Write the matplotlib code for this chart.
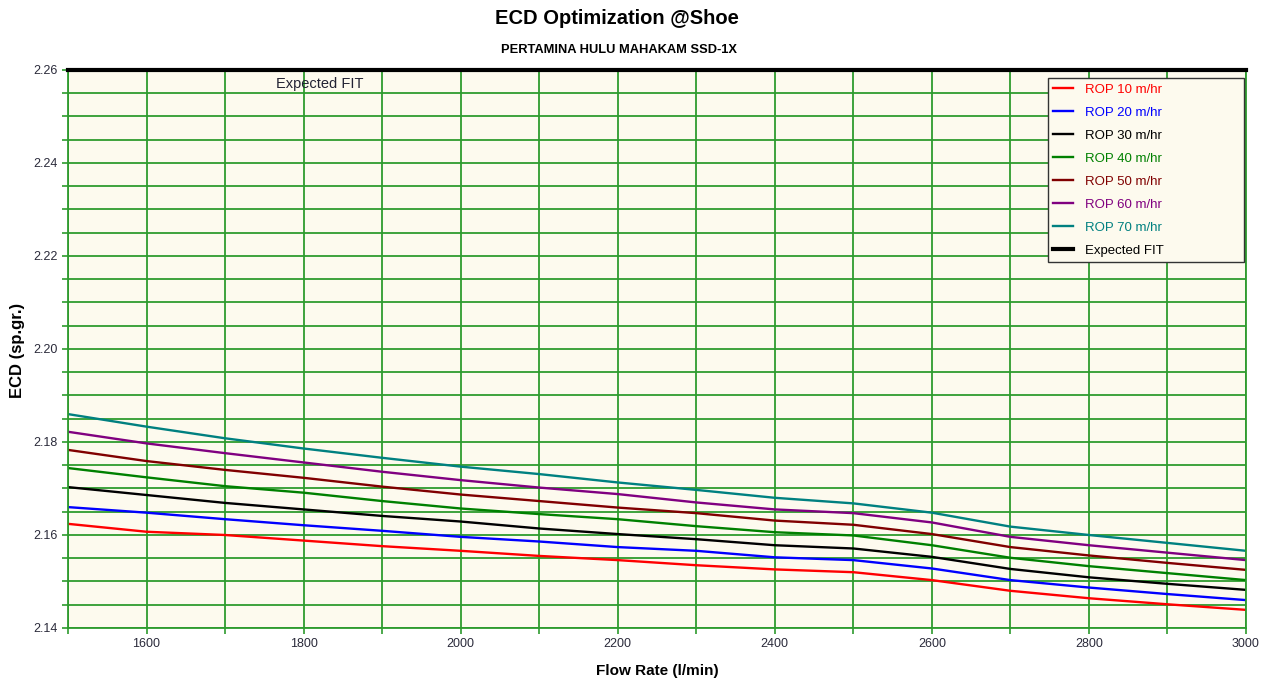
import matplotlib
matplotlib.use("Agg")
import matplotlib.pyplot as plt
from matplotlib.ticker import MultipleLocator

flow = [1500, 1600, 1700, 1800, 1900, 2000, 2100, 2200, 2300, 2400, 2500, 2600, 2700, 2800, 2900, 3000]

rop10 = [2.1624, 2.1607, 2.1600, 2.1588, 2.1576, 2.1566, 2.1555, 2.1546, 2.1535, 2.1526, 2.1520, 2.1503, 2.1480, 2.1464, 2.1451, 2.1439]
rop20 = [2.1660, 2.1648, 2.1634, 2.1621, 2.1609, 2.1596, 2.1586, 2.1574, 2.1566, 2.1552, 2.1546, 2.1528, 2.1503, 2.1487, 2.1473, 2.1460]
rop30 = [2.1703, 2.1686, 2.1669, 2.1655, 2.1641, 2.1629, 2.1614, 2.1602, 2.1591, 2.1578, 2.1571, 2.1553, 2.1527, 2.1509, 2.1495, 2.1482]
rop40 = [2.1744, 2.1724, 2.1705, 2.1691, 2.1673, 2.1657, 2.1645, 2.1634, 2.1619, 2.1606, 2.1599, 2.1578, 2.1551, 2.1533, 2.1518, 2.1503]
rop50 = [2.1783, 2.1759, 2.1740, 2.1723, 2.1704, 2.1687, 2.1673, 2.1659, 2.1647, 2.1631, 2.1622, 2.1602, 2.1574, 2.1556, 2.1540, 2.1525]
rop60 = [2.1822, 2.1797, 2.1776, 2.1756, 2.1736, 2.1718, 2.1702, 2.1688, 2.1670, 2.1655, 2.1647, 2.1627, 2.1596, 2.1578, 2.1562, 2.1546]
rop70 = [2.1860, 2.1833, 2.1808, 2.1786, 2.1766, 2.1747, 2.1731, 2.1713, 2.1697, 2.1680, 2.1668, 2.1648, 2.1618, 2.1600, 2.1583, 2.1566]
expected_fit = [2.26] * len(flow)

series = [
    ("ROP 10 m/hr", rop10, "#FF0000"),
    ("ROP 20 m/hr", rop20, "#0000FF"),
    ("ROP 30 m/hr", rop30, "#000000"),
    ("ROP 40 m/hr", rop40, "#008000"),
    ("ROP 50 m/hr", rop50, "#800000"),
    ("ROP 60 m/hr", rop60, "#800080"),
    ("ROP 70 m/hr", rop70, "#008080"),
]

plt.rcParams["font.family"] = ["Liberation Sans", "DejaVu Sans"]

fig = plt.figure(figsize=(12.71, 6.85), dpi=100)
fig.patch.set_facecolor("white")
ax = fig.add_axes([68/1271, 1-628/685, (1246-68)/1271, (628-70)/685])
ax.set_facecolor("#FDFAEE")

grid_c = "#2E9B2E"
ax.set_xlim(1500, 3000)
ax.set_ylim(2.14, 2.26)
ax.xaxis.set_major_locator(MultipleLocator(200))
ax.xaxis.set_minor_locator(MultipleLocator(100))
ax.yaxis.set_major_locator(MultipleLocator(0.02))
ax.yaxis.set_minor_locator(MultipleLocator(0.005))
ax.grid(which="both", color=grid_c, linewidth=1.3)
ax.set_axisbelow(True)
ax.xaxis.set_major_formatter(plt.FuncFormatter(lambda v, p: "" if v == 1500 else f"{v:.0f}"))
ax.yaxis.set_major_formatter(plt.FuncFormatter(lambda v, p: f"{v:.2f}"))
ax.tick_params(which="both", direction="out", length=4, color=grid_c, width=1.2,
               labelsize=9, labelcolor="#2a2a3a")
for s in ax.spines.values():
    s.set_color(grid_c)
    s.set_linewidth(1.3)

for name, vals, col in series:
    ax.plot(flow, vals, color=col, lw=1.7, label=name)
ax.plot(flow, expected_fit, color="black", lw=3, label="Expected FIT", clip_on=False, zorder=5)
ax.text(1500 + (320 - 68) / (1246 - 68) * 1500, 2.2585, "Expected FIT", ha="center", va="top",
        fontsize=10.5, color="#222233")

leg = ax.legend(loc="upper left",
                bbox_to_anchor=(1048/1271, 1-260/685, (1244-1048)/1271, (260-78)/685),
                bbox_transform=fig.transFigure, mode="expand",
                fontsize=9.5, labelcolor="linecolor", frameon=True, fancybox=False,
                handlelength=1.5, handletextpad=0.9, borderpad=0.4, labelspacing=0.82,
                borderaxespad=0)
leg.get_frame().set_edgecolor("#333333")
leg.get_frame().set_facecolor("#FDFAEE")
leg.get_frame().set_alpha(1)
leg.get_frame().set_linewidth(1.0)
for t in leg.get_texts():
    if t.get_text() == "Expected FIT":
        t.set_color("black")

fig.text(617/1271, 1-18/685, "ECD Optimization @Shoe", ha="center", va="center",
         fontsize=14.5, fontweight="bold")
fig.text(619/1271, 1-50/685, "PERTAMINA HULU MAHAKAM SSD-1X", ha="center", va="center",
         fontsize=9.3, fontweight="bold")
fig.text(18/1271, 1-350/685, "ECD (sp.gr.)", ha="center", va="center", rotation=90,
         fontsize=12, fontweight="bold")
fig.text(657/1271, 1-671/685, "Flow Rate (l/min)", ha="center", va="center",
         fontsize=11, fontweight="bold")

fig.savefig("out.png", dpi=100, facecolor="white")
